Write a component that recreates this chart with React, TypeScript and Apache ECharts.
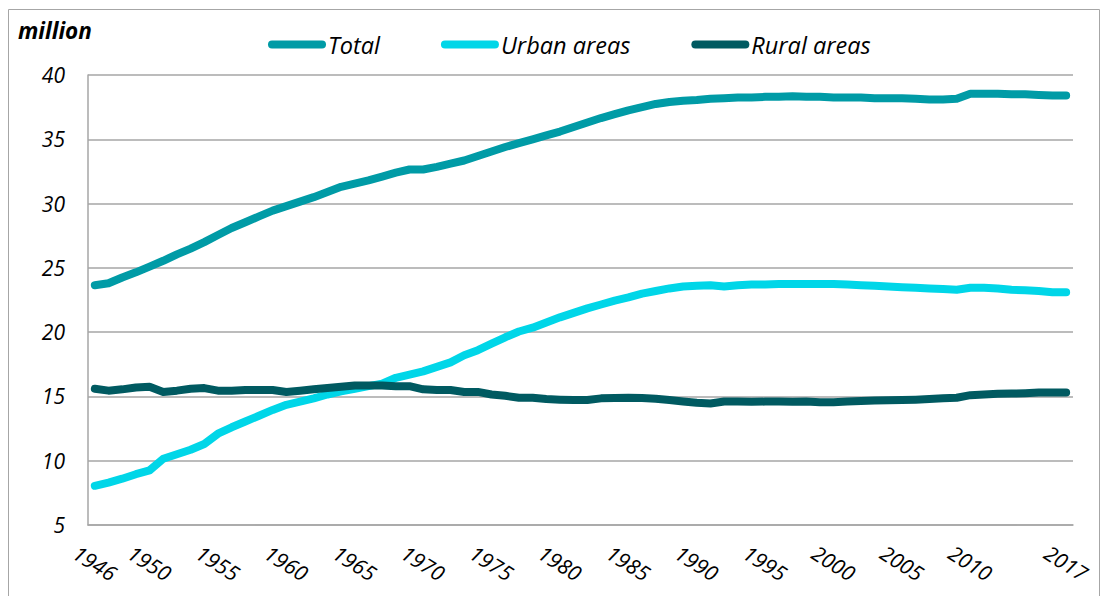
import React, { useEffect, useRef } from "react";
import * as echarts from "echarts";

const years: string[] = Array.from({ length: 72 }, (_, i) => String(1946 + i));
const labelYears: string[] = [
  "1946", "1950", "1955", "1960", "1965", "1970", "1975", "1980", "1985",
  "1990", "1995", "2000", "2005", "2010", "2017",
];
const yTicks = { min: 5, max: 40, interval: 5 };

const total: number[] = [
  23.65, 23.8, 24.25, 24.65, 25.1, 25.55, 26.05, 26.5, 27.0, 27.55,
  28.1, 28.55, 29.0, 29.45, 29.8, 30.15, 30.5, 30.9, 31.3, 31.55,
  31.8, 32.1, 32.4, 32.65, 32.65, 32.85, 33.1, 33.35, 33.7, 34.05,
  34.4, 34.7, 35.0, 35.3, 35.6, 35.95, 36.3, 36.65, 36.95, 37.25,
  37.5, 37.75, 37.9, 38.0, 38.05, 38.15, 38.2, 38.25, 38.25, 38.3,
  38.3, 38.35, 38.3, 38.3, 38.25, 38.25, 38.25, 38.2, 38.2, 38.2,
  38.15, 38.1, 38.1, 38.15, 38.55, 38.55, 38.55, 38.5, 38.5, 38.45,
  38.4, 38.4,
];
const urban: number[] = [
  8.05, 8.3, 8.6, 8.95, 9.25, 10.15, 10.5, 10.85, 11.3, 12.1,
  12.6, 13.05, 13.5, 13.95, 14.35, 14.6, 14.85, 15.15, 15.4, 15.6,
  15.8, 16.0, 16.45, 16.7, 16.95, 17.3, 17.65, 18.2, 18.6, 19.1,
  19.6, 20.05, 20.35, 20.75, 21.15, 21.5, 21.85, 22.15, 22.45, 22.7,
  23.0, 23.2, 23.4, 23.55, 23.6, 23.65, 23.55, 23.65, 23.7, 23.7,
  23.75, 23.75, 23.75, 23.75, 23.75, 23.7, 23.65, 23.6, 23.55, 23.5,
  23.45, 23.4, 23.35, 23.3, 23.45, 23.45, 23.4, 23.3, 23.25, 23.2,
  23.1, 23.1,
];
const rural: number[] = [
  15.6, 15.45, 15.55, 15.7, 15.75, 15.35, 15.45, 15.6, 15.65, 15.45,
  15.45, 15.5, 15.5, 15.5, 15.35, 15.45, 15.55, 15.65, 15.75, 15.85,
  15.85, 15.85, 15.8, 15.8, 15.55, 15.5, 15.5, 15.35, 15.35, 15.15,
  15.05, 14.9, 14.9, 14.8, 14.75, 14.72, 14.72, 14.85, 14.88, 14.9,
  14.88, 14.82, 14.72, 14.6, 14.5, 14.45, 14.6, 14.6, 14.58, 14.6,
  14.6, 14.58, 14.6, 14.55, 14.55, 14.6, 14.65, 14.68, 14.7, 14.72,
  14.75, 14.8, 14.85, 14.9, 15.1, 15.15, 15.2, 15.22, 15.25, 15.3,
  15.3, 15.3,
];

const seriesNames = ["Total", "Urban areas", "Rural areas"];
const seriesColors = ["#009ba6", "#00d6e8", "#005a61"];

const FONT = "'Open Sans', 'Noto Sans', sans-serif";
const GRID_COLOR = "#a6a6a6";
const PILL = "path://M4,0L54,0A4,4,0,0,1,54,8L4,8A4,4,0,0,1,4,0Z";

export default function App() {
  const ref = useRef<HTMLDivElement>(null);

  useEffect(() => {
    if (!ref.current) return;
    const chart = echarts.init(ref.current, undefined, { renderer: "svg" });
    const datasets = [total, urban, rural];
    chart.setOption({
      animation: false,
      backgroundColor: "#ffffff",
      textStyle: { fontFamily: FONT },
      grid: { left: 80, top: 67, right: 27, bottom: 71 },
      graphic: [
        {
          type: "rect",
          shape: { x: 0.5, y: 1.5, width: 1091, height: 590 },
          style: { fill: "none", stroke: GRID_COLOR, lineWidth: 1 },
          silent: true,
        },
        {
          type: "text",
          left: 10,
          top: 11,
          style: {
            text: "million",
            fontFamily: FONT,
            fontSize: 22.5,
            fontWeight: "bold",
            fontStyle: "italic",
            fill: "#000",
          },
        },
      ],
      legend: {
        left: 255,
        top: 20,
        itemWidth: 58,
        itemHeight: 8,
        itemGap: 61,
        data: seriesNames.map((n) => ({ name: n, icon: PILL })),
        textStyle: {
          fontFamily: FONT,
          fontSize: 23.5,
          fontStyle: "italic",
          color: "#000",
          padding: [0, 0, 0, -3],
        },
      },
      xAxis: {
        type: "category",
        data: years,
        boundaryGap: true,
        axisLine: { show: true, lineStyle: { color: GRID_COLOR, width: 1.5 } },
        axisTick: { show: false },
        axisLabel: {
          interval: (_idx: number, val: string) => labelYears.includes(val),
          rotate: -32,
          align: "center",
          verticalAlign: "middle",
          margin: 38,
          fontFamily: FONT,
          fontSize: 21,
          fontStyle: "italic",
          color: "#000",
        },
        splitLine: { show: false },
      },
      yAxis: {
        type: "value",
        min: yTicks.min,
        max: yTicks.max,
        interval: yTicks.interval,
        axisLine: { show: true, lineStyle: { color: GRID_COLOR, width: 1.5 } },
        axisTick: { show: false },
        axisLabel: {
          margin: 23,
          fontFamily: FONT,
          fontSize: 21,
          fontStyle: "italic",
          color: "#000",
        },
        splitLine: { show: true, lineStyle: { color: GRID_COLOR, width: 1.5 } },
      },
      series: seriesNames.map((name, i) => ({
        name,
        type: "line",
        data: datasets[i],
        symbol: "none",
        showSymbol: false,
        smooth: false,
        color: seriesColors[i],
        itemStyle: { color: seriesColors[i] },
        lineStyle: { color: seriesColors[i], width: 8, cap: "round", join: "round" },
        z: 2 + i,
      })),
    });
    return () => chart.dispose();
  }, []);

  return <div ref={ref} style={{ width: 1092, height: 588 }} />;
}
